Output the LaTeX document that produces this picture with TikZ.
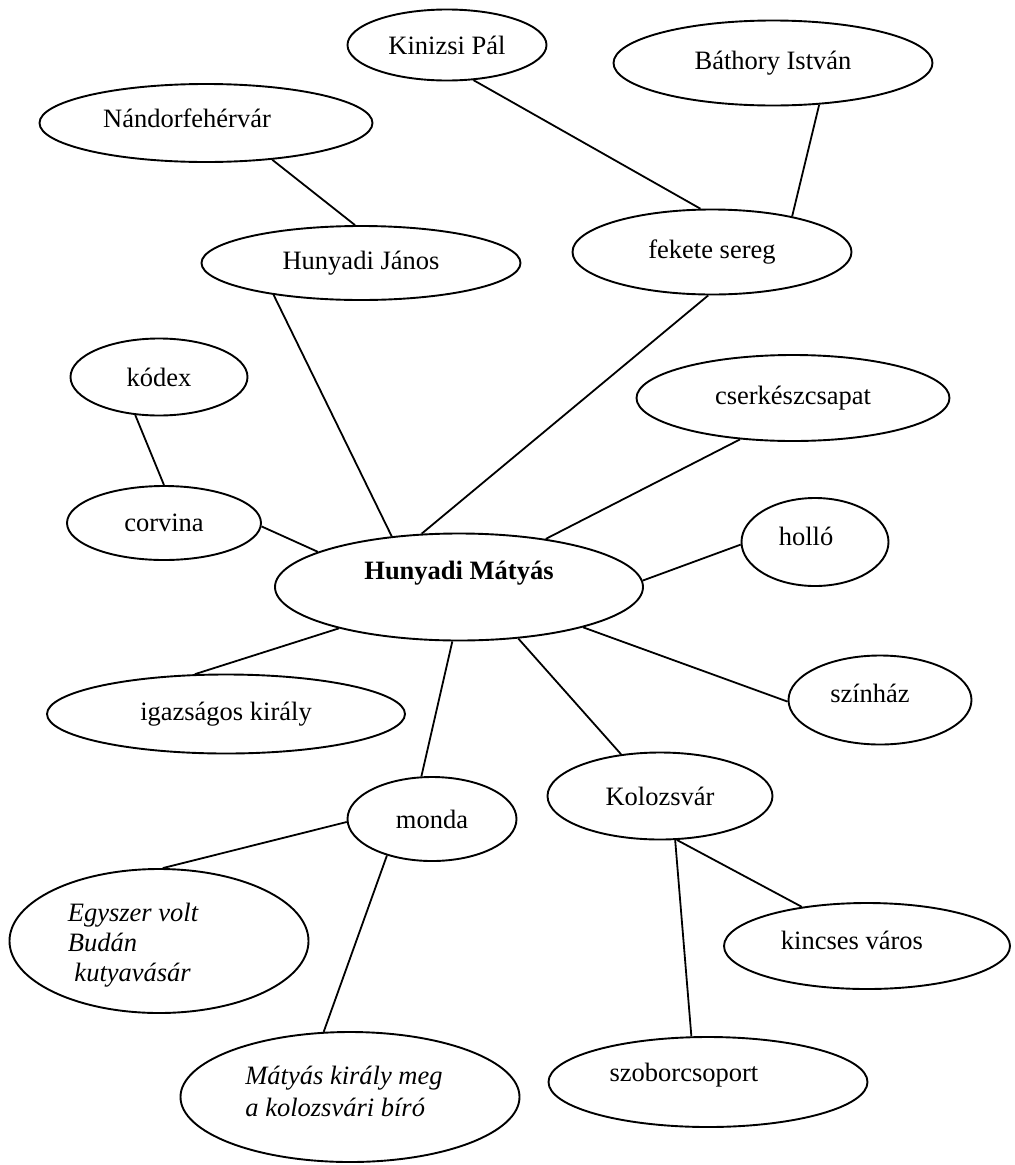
\documentclass[tikz,border=0pt]{standalone}
\usepackage{fontspec}
\setmainfont{Liberation Serif}
\usetikzlibrary{shapes.geometric}

\tikzset{
  bubble/.style={draw, ellipse, inner sep=0pt, line width=1.9pt},
  link/.style={line width=1.8pt}
}

\begin{document}
\begin{tikzpicture}[x=1pt, y=-1pt, font=\fontsize{26.5}{31}\selectfont]
		\useasboundingbox (0,0) rectangle (1015,1165);
		% upper ring
		\node[bubble, minimum width=199, minimum height=71] (kinizsi) at (447,45) {Kinizsi Pál};
		\node[bubble, minimum width=319, minimum height=85] (bathory) at (773,63) {Báthory István};
		\node[bubble, minimum width=333, minimum height=78, label={[xshift=-19pt, yshift=5pt]center:Nándorfehérvár}] (nandor) at (206,123) {};
		\node[bubble, minimum width=319, minimum height=74] (janos) at (361,263) {Hunyadi János};
		\node[bubble, minimum width=279, minimum height=85] (fekete) at (712,252) {fekete sereg};
		\node[bubble, minimum width=177, minimum height=77] (kodex) at (159,377) {kódex};
		\node[bubble, minimum width=313, minimum height=86] (cserkesz) at (793,398) {cserkészcsapat};
		\node[bubble, minimum width=194, minimum height=74] (corvina) at (164,523) {corvina};
		\node[bubble, minimum width=147, minimum height=88, label={[xshift=-9pt, yshift=6pt]center:holló}] (hollo) at (815,542) {};
		
		% centre
		\node[bubble, minimum width=368, minimum height=107, label={[yshift=14pt, font=\fontsize{26.5}{31}\selectfont\bfseries]center:Hunyadi Mátyás}] (matyas) at (459,587) {};
		
		% lower ring
		\node[bubble, minimum width=358, minimum height=79] (igazsagos) at (226,714) {igazságos király};
		\node[bubble, minimum width=183, minimum height=89, label={[xshift=-10pt, yshift=7pt]center:színház}] (szinhaz) at (880,700) {};
		\node[bubble, minimum width=169, minimum height=84] (monda) at (432,819) {monda};
		\node[bubble, minimum width=225, minimum height=87] (kolozsvar) at (660,796) {Kolozsvár};
		\node[bubble, minimum width=299, minimum height=144, label={[xshift=-26pt, yshift=-4pt, align=left, font=\fontsize{26.5}{30}\selectfont\itshape]center:Egyszer volt\\Budán\\\hspace*{.25em}kutyavásár}] (kutya) at (159,941) {};
		\node[bubble, minimum width=286, minimum height=86, label={[xshift=-15pt, yshift=6pt]center:kincses város}] (kincses) at (867,946) {};
		\node[bubble, minimum width=319, minimum height=90, label={[xshift=-24pt, yshift=7pt]center:szoborcsoport}] (szobor) at (708,1082) {};
		\node[bubble, minimum width=339, minimum height=130, label={[xshift=-6pt, yshift=6pt, align=left, font=\fontsize{26.5}{32}\selectfont\itshape]center:Mátyás király meg\\a kolozsvári bíró}] (biro) at (350,1097) {};
		
		\draw[link] (nandor.-29) to (janos.99);
		\draw[link] (kinizsi.-53) to (fekete.105);
		\draw[link] (bathory.-42) to (fekete.24);
		\draw[link] (fekete.-95) to (matyas.125);
		\draw[link] (janos.-160) to (matyas.143);
		\draw[link] (kodex.-122) to (corvina.90);
		\draw[link] (corvina.-2) to (matyas.166);
		\draw[link] (cserkesz.-142) to (matyas.29);
		\draw[link] (hollo.182) to (matyas.2);
		\draw[link] (matyas.-18) to (szinhaz.181);
		\draw[link] (matyas.-41) to (kolozsvar.133);
		\draw[link] (matyas.-161) to (igazsagos.128);
		\draw[link] (matyas.-97) to (monda.104);
		\draw[link] (monda.182) to (kutya.87);
		\draw[link] (monda.-141) to (biro.112);
		\draw[link] (kolozsvar.-69) to (kincses.149);
		\draw[link] (kolozsvar.-71) to (szobor.110);
		
		\end{tikzpicture}
\end{document}
